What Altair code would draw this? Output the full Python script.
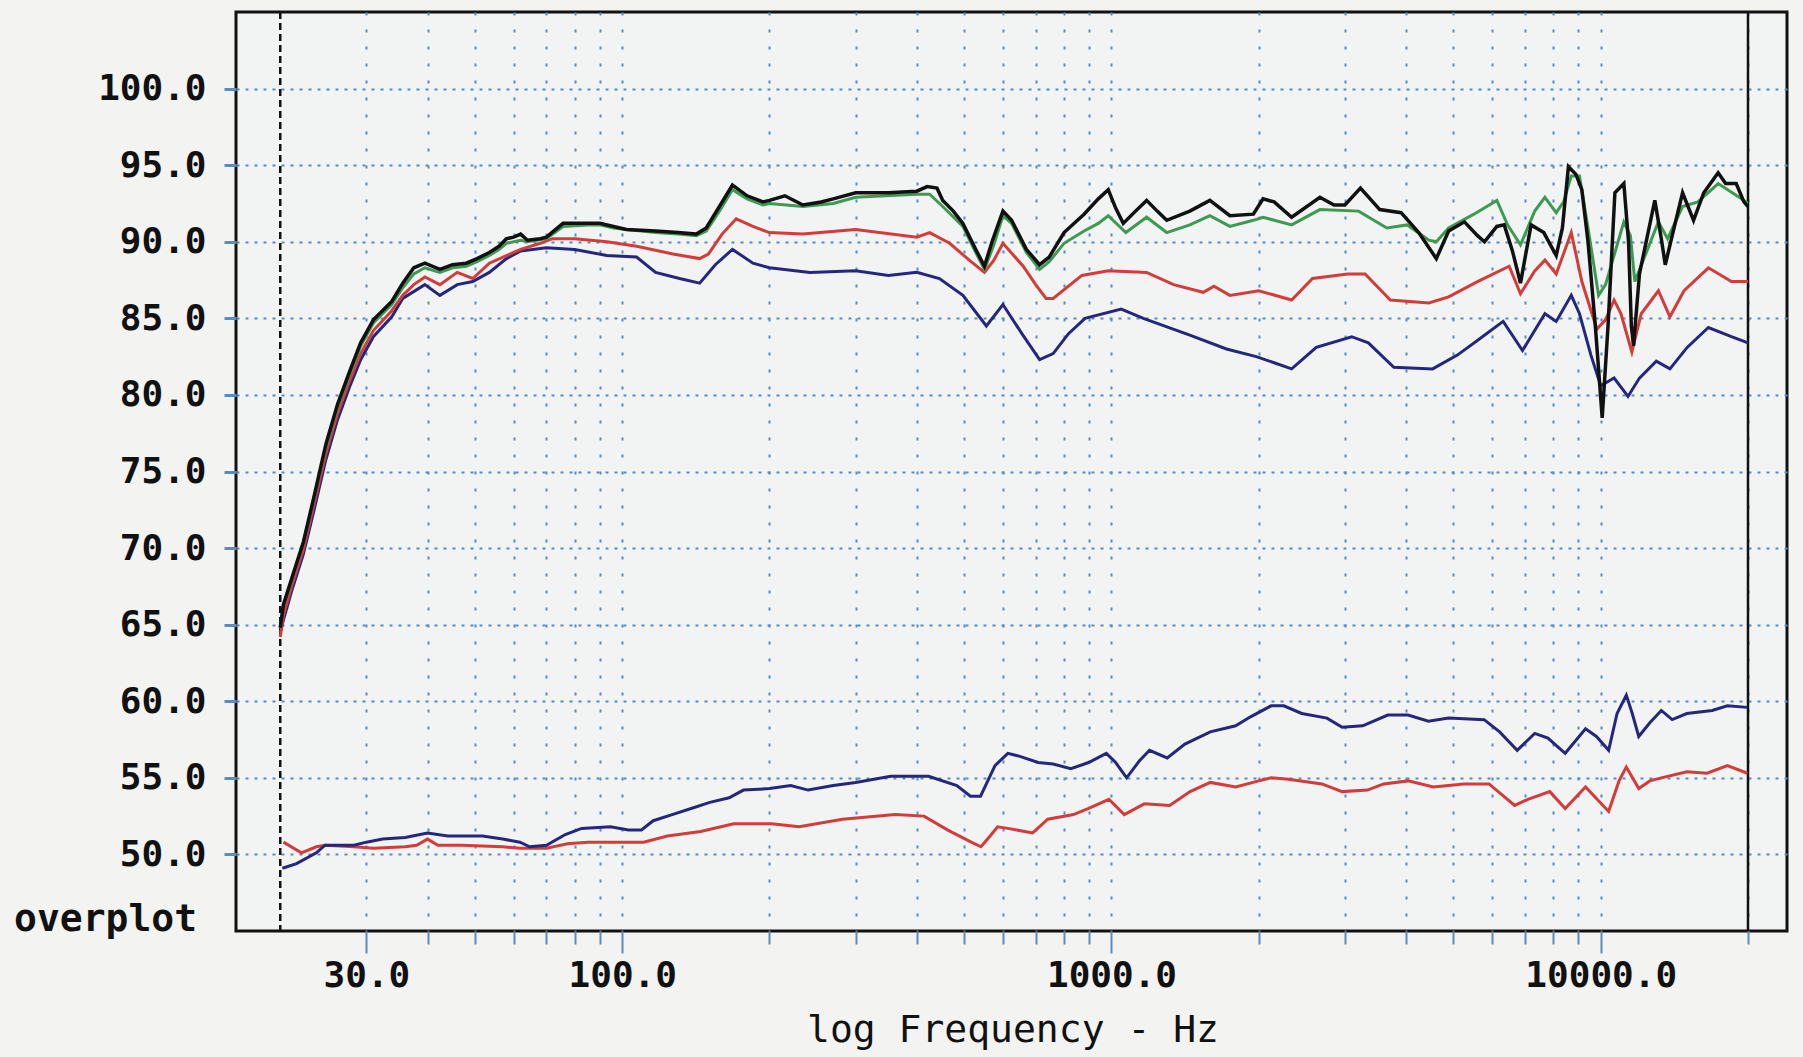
import altair as alt
import pandas as pd

# ---------------- data ----------------
BLACK_F = [20.0, 20.3, 21.1, 22.3, 23.5, 24.8, 26.2, 27.7, 29.2, 31.0, 33.8, 35.6, 37.5, 39.5, 42.4, 45, 48, 50.5,
           53.5, 56, 58, 60, 62, 64, 68, 70, 75.7, 85, 90, 96, 102, 117, 130, 141.7, 148.5, 158, 168, 180, 194, 200,
           215, 234, 255, 270, 300, 350, 400, 420, 440, 452, 475, 497, 528, 550, 570, 600, 625, 670, 713, 746, 800,
           879, 940, 985, 1020, 1057, 1120, 1180, 1240, 1297, 1446, 1589, 1746, 1950, 2041, 2150, 2335, 2667, 2850,
           3000, 3228, 3535, 3908, 4246, 4613, 4888, 5265, 5600, 5786, 6134, 6350, 6600, 6855, 7205, 7650, 8110,
           8350, 8590, 8900, 9150, 9420, 9750, 10070, 10350, 10690, 11150, 11400, 11550, 11670, 12000, 12900,
           13300, 13550, 14000, 14700, 15480, 16240, 17380, 18000, 18920, 19620, 20000]
BLACK_DB = [64.8, 66.3, 68.0, 70.4, 73.5, 76.8, 79.4, 81.5, 83.4, 84.9, 86.1, 87.3, 88.3, 88.6, 88.2, 88.5, 88.6, 88.9,
            89.3, 89.7, 90.2, 90.3, 90.5, 90.1, 90.2, 90.3, 91.2, 91.2, 91.2, 91.0, 90.8, 90.7, 90.6, 90.5, 90.9, 92.3,
            93.7, 93.0, 92.6, 92.7, 93.0, 92.4, 92.6, 92.8, 93.2, 93.2, 93.3, 93.6, 93.5, 92.7, 92.0, 91.2, 89.5, 88.4,
            90.0, 92.0, 91.4, 89.5, 88.5, 89.0, 90.6, 91.8, 92.8, 93.4, 92.2, 91.2, 92.0, 92.7, 92.0, 91.4, 92.0, 92.7,
            91.7, 91.8, 92.8, 92.6, 91.6, 92.9, 92.4, 92.4, 93.5, 92.1, 91.9, 90.6, 88.9, 90.7, 91.3, 90.4, 90.0, 91.0,
            91.1, 89.4, 87.3, 91.1, 90.6, 89.1, 90.9, 94.9, 94.4, 93.4, 90.0, 84.5, 78.5, 84.5, 93.2, 93.8, 90.0, 84.5,
            83.2, 87.9, 92.7, 90.2, 88.5, 90.4, 93.2, 91.4, 93.2, 94.5, 93.8, 93.8, 92.6, 92.3]

GREEN_F = [20.0, 20.3, 21.1, 22.3, 23.5, 24.8, 26.2, 27.7, 29.2, 31.0, 33.8, 35.6, 37.5, 39.5, 42.4, 45, 48, 50.5,
           53.5, 56, 58, 62, 64, 70, 75.7, 85, 90, 96, 102, 117, 130, 141.7, 148.5, 158, 168, 180, 194, 200, 234, 270,
           300, 400, 425, 452, 497, 528, 550, 575, 600, 625, 670, 713, 746, 800, 879, 940, 985, 1070, 1180, 1297,
           1446, 1589, 1746, 1950, 2041, 2335, 2667, 3200, 3655, 4022, 4454, 4613, 4888, 5506, 6134, 6450, 6855,
           7330, 7690, 8110, 8400, 8706, 9050, 9420, 9900, 10230, 11150, 11500, 11740, 13120, 13700, 14700, 15800,
           17380, 19400, 20000]
GREEN_DB = [64.8, 66.2, 67.9, 70.3, 73.4, 76.6, 79.2, 81.3, 83.2, 84.7, 85.9, 87.0, 87.9, 88.3, 88.0, 88.3, 88.4, 88.7,
            89.1, 89.5, 89.9, 90.1, 90.0, 90.2, 91.0, 91.1, 91.1, 90.9, 90.8, 90.6, 90.5, 90.4, 90.7, 92.0, 93.4, 92.8,
            92.4, 92.5, 92.3, 92.5, 92.9, 93.1, 93.1, 92.3, 91.0, 89.3, 88.2, 89.8, 91.7, 91.2, 89.3, 88.2, 88.7, 89.9,
            90.7, 91.2, 91.7, 90.6, 91.6, 90.6, 91.1, 91.7, 91.0, 91.4, 91.6, 91.1, 92.1, 92.0, 90.9, 91.1, 90.1, 90.0,
            90.9, 91.8, 92.7, 91.1, 89.8, 92.0, 92.9, 91.9, 92.6, 94.3, 94.3, 90.9, 86.5, 87.2, 91.3, 90.4, 87.4, 91.3,
            90.2, 92.3, 92.6, 93.8, 92.8, 92.5]

RED_F = [20.0, 20.3, 21.1, 22.3, 23.5, 24.8, 26.2, 27.7, 29.2, 31.0, 33.8, 35.6, 37.5, 39.5, 42.4, 46, 49.5, 53.5, 58,
         62, 68, 72, 80, 93, 107, 127, 144, 150, 160, 171, 185, 200, 234, 300, 400, 425, 467, 512, 550, 575, 600, 660,
         700, 735, 760, 870, 985, 1180, 1340, 1540, 1620, 1746, 2000, 2335, 2576, 3040, 3300, 3715, 4454, 4888, 5600,
         6500, 6855, 7330, 7690, 8110, 8706, 9150, 9820, 10230, 10650, 11000, 11580, 12100, 13120, 13850, 14800,
         16600, 18500, 20000]
RED_DB = [64.2, 65.6, 67.5, 69.9, 73.0, 76.2, 78.8, 80.9, 82.7, 84.2, 85.5, 86.5, 87.2, 87.7, 87.2, 88.0, 87.6, 88.6,
          89.1, 89.5, 89.9, 90.2, 90.2, 90.0, 89.7, 89.2, 88.9, 89.2, 90.5, 91.5, 91.0, 90.6, 90.5, 90.8, 90.3, 90.6,
          89.9, 88.8, 88.0, 88.8, 89.9, 88.4, 87.2, 86.3, 86.3, 87.8, 88.1, 88.0, 87.2, 86.7, 87.1, 86.5, 86.8, 86.2,
          87.6, 87.9, 87.9, 86.2, 86.0, 86.4, 87.4, 88.4, 86.6, 88.1, 88.8, 87.9, 90.6, 87.4, 84.3, 84.9, 86.2, 85.3,
          82.8, 85.3, 86.8, 85.1, 86.8, 88.3, 87.4, 87.4]

BLUE_F = [20.0, 20.3, 21.1, 22.3, 23.5, 24.8, 26.2, 27.7, 29.2, 31.0, 33.8, 35.6, 39.5, 42.4, 46, 49.5, 53.5, 58, 62,
          70, 80, 93, 107, 117, 131, 144, 155, 168, 185, 200, 242, 300, 350, 400, 445, 497, 555, 600, 656, 713, 760,
          817, 883, 1047, 1162, 1446, 1718, 1977, 2150, 2335, 2622, 3097, 3350, 3777, 4533, 5093, 5623, 6318, 6920,
          7690, 8110, 8706, 9050, 9550, 10000, 10650, 11370, 12000, 12990, 13850, 15020, 16600, 18500, 20000]
BLUE_DB = [64.5, 65.3, 67.2, 69.6, 72.6, 75.8, 78.4, 80.5, 82.3, 83.8, 85.1, 86.3, 87.2, 86.5, 87.2, 87.4, 88.0, 88.9,
           89.4, 89.6, 89.5, 89.1, 89.0, 88.0, 87.6, 87.3, 88.5, 89.5, 88.6, 88.3, 88.0, 88.1, 87.8, 88.0, 87.6, 86.5,
           84.5, 85.9, 84.0, 82.3, 82.7, 84.0, 85.0, 85.6, 85.0, 83.9, 83.0, 82.5, 82.1, 81.7, 83.1, 83.8, 83.4, 81.8,
           81.7, 82.6, 83.6, 84.8, 82.9, 85.3, 84.8, 86.5, 85.3, 82.6, 80.6, 81.1, 79.9, 81.1, 82.2, 81.7, 83.1, 84.4,
           83.8, 83.4]

LOW_BLUE_F = [20.2, 21.6, 23.7, 24.7, 28.3, 30, 32.4, 36, 40, 44, 51.8, 57, 61.8, 64.7, 70, 76.5, 82.6, 94.6, 103,
              109.5, 115.7, 126.5, 138.3, 151, 165.4, 176.9, 200, 221, 240, 270, 300, 354, 423, 483, 515, 540, 578,
              614, 650, 708, 760, 826, 898, 976, 1020, 1074, 1140, 1196, 1300, 1413, 1592, 1794, 1928, 2120, 2250,
              2449, 2757, 2962, 3262, 3670, 4039, 4444, 4889, 5777, 6214, 6750, 7330, 7800, 8460, 9310, 9800, 10380,
              10800, 11280, 11600, 11960, 12600, 13300, 14000, 15000, 16900, 18150, 19950]
LOW_BLUE_DB = [49.1, 49.4, 50.1, 50.6, 50.6, 50.8, 51.0, 51.1, 51.4, 51.2, 51.2, 51.0, 50.8, 50.5, 50.6, 51.3, 51.7,
               51.8, 51.6, 51.6, 52.2, 52.6, 53.0, 53.4, 53.7, 54.2, 54.3, 54.5, 54.2, 54.5, 54.7, 55.1, 55.1, 54.5,
               53.8, 53.8, 55.8, 56.6, 56.4, 56.0, 55.9, 55.6, 56.0, 56.6, 56.0, 55.0, 56.1, 56.8, 56.3, 57.2, 58.0,
               58.4, 59.0, 59.7, 59.7, 59.2, 58.9, 58.3, 58.4, 59.1, 59.1, 58.7, 58.9, 58.8, 58.0, 56.8, 57.9, 57.6,
               56.6, 58.2, 57.7, 56.8, 59.2, 60.4, 59.2, 57.7, 58.6, 59.4, 58.8, 59.2, 59.4, 59.7, 59.6]

LOW_RED_F = [20.3, 22.1, 23.7, 24.7, 28.3, 31, 36, 38, 40, 42, 47, 57, 61.8, 70, 77.3, 85, 92.5, 110.6, 123.7, 144.6,
             169, 202, 230, 282, 361, 414, 462, 517, 541, 565, 585, 614, 690, 741, 836, 898, 988, 1062, 1167, 1315,
             1448, 1592, 1794, 2000, 2120, 2300, 2692, 2962, 3336, 3600, 4039, 4549, 5248, 5912, 6670, 7100, 7870,
             8460, 9310, 10380, 10900, 11280, 11960, 12600, 13300, 15000, 16500, 18150, 19950]
LOW_RED_DB = [50.8, 50.1, 50.5, 50.6, 50.5, 50.4, 50.5, 50.6, 51.0, 50.6, 50.6, 50.5, 50.4, 50.4, 50.7, 50.8, 50.8,
              50.8, 51.2, 51.5, 52.0, 52.0, 51.8, 52.3, 52.6, 52.5, 51.6, 50.8, 50.5, 51.2, 51.8, 51.7, 51.4, 52.3,
              52.6, 53.0, 53.6, 52.6, 53.3, 53.2, 54.1, 54.7, 54.4, 54.8, 55.0, 54.9, 54.6, 54.1, 54.2, 54.6, 54.8,
              54.4, 54.6, 54.6, 53.2, 53.6, 54.1, 53.0, 54.4, 52.8, 54.8, 55.7, 54.3, 54.8, 55.0, 55.4, 55.3, 55.8,
              55.3]

X_TICKS = [30, 40, 50, 60, 70, 80, 90, 100, 200, 300, 400, 500, 600, 700, 800, 900,
           1000, 2000, 3000, 4000, 5000, 6000, 7000, 8000, 9000, 10000, 20000]
X_LABELED = [30, 100, 1000, 10000]
Y_TICKS = [50, 55, 60, 65, 70, 75, 80, 85, 90, 95, 100]
START_F = [20]      # dashed marker at start of sweep
END_F = [20000]     # solid marker at end of sweep
X_TITLE = "log Frequency - Hz"
CORNER = "overplot"

# ---------------- chart ----------------
MONO = "DejaVu Sans Mono"
GRID = "#5a8cc0"
lab_test = "indexof(%s, datum.value) >= 0" % str(X_LABELED)

xscale = alt.Scale(type="log", domain=[16.24, 24030], nice=False)
yscale = alt.Scale(domain=[45, 105], nice=False, zero=False)

xaxis = alt.Axis(values=X_TICKS, grid=True, gridDash=[3, 14], gridColor=GRID, gridWidth=2,
                 domain=False, ticks=True, tickColor=GRID, tickWidth=2,
                 tickSize={"condition": {"test": lab_test, "value": 22}, "value": 13},
                 labelExpr="%s ? format(datum.value, '.1f') : ''" % lab_test,
                 labelFont=MONO, labelFontWeight="bold", labelFontSize=36, labelColor="#111111",
                 labelPadding=5, labelFlush=False, labelOverlap=False, title=None)
yaxis = alt.Axis(values=Y_TICKS, grid=True, gridDash=[3, 6], gridColor=GRID, gridWidth=2,
                 domain=False, ticks=True, tickColor=GRID, tickWidth=3, tickSize=12,
                 format=".1f", labelFont=MONO, labelFontWeight="bold", labelFontSize=36,
                 labelColor="#111111", labelPadding=18, title=None)


def curve(freqs, dbs, color, width):
    df = pd.DataFrame({"f": freqs, "db": dbs})
    return alt.Chart(df).mark_line(color=color, strokeWidth=width, interpolate="linear").encode(
        x=alt.X("f:Q", scale=xscale, axis=xaxis),
        y=alt.Y("db:Q", scale=yscale, axis=yaxis),
    )


start_rule = alt.Chart(pd.DataFrame({"f": START_F})).mark_rule(
    color="#111111", strokeWidth=2.5, strokeDash=[7, 4]).encode(x=alt.X("f:Q", scale=xscale, axis=xaxis))
end_rule = alt.Chart(pd.DataFrame({"f": END_F})).mark_rule(
    color="#111111", strokeWidth=2.5).encode(x=alt.X("f:Q", scale=xscale, axis=xaxis))

corner = alt.Chart(pd.DataFrame({"t": [CORNER]})).mark_text(
    font=MONO, fontWeight="bold", fontSize=38, align="left", baseline="middle", color="#111111"
).encode(text="t:N", x=alt.value(-222), y=alt.value(908))

xtitle = alt.Chart(pd.DataFrame({"t": [X_TITLE]})).mark_text(
    font=MONO, fontSize=38, align="center", baseline="middle", color="#111111"
).encode(text="t:N", x=alt.value(777), y=alt.value(1019))

chart = alt.layer(
    start_rule, end_rule,
    curve(LOW_RED_F, LOW_RED_DB, "#d23c3a", 3),
    curve(LOW_BLUE_F, LOW_BLUE_DB, "#25277c", 3),
    curve(BLUE_F, BLUE_DB, "#25277c", 3),
    curve(RED_F, RED_DB, "#d23c3a", 3),
    curve(GREEN_F, GREEN_DB, "#3d9a50", 3),
    curve(BLACK_F, BLACK_DB, "#111111", 3.5),
    corner, xtitle,
).properties(
    width=1551, height=919,
    autosize=alt.AutoSizeParams(type="none"),
    padding={"left": 236, "top": 12, "right": 16, "bottom": 126},
    background="#f3f3f1",
).configure_view(
    stroke="#111111", strokeWidth=3, fill="#f2f3f3"
)

chart.save("out.html", embed_options={"renderer": "svg", "actions": False})
